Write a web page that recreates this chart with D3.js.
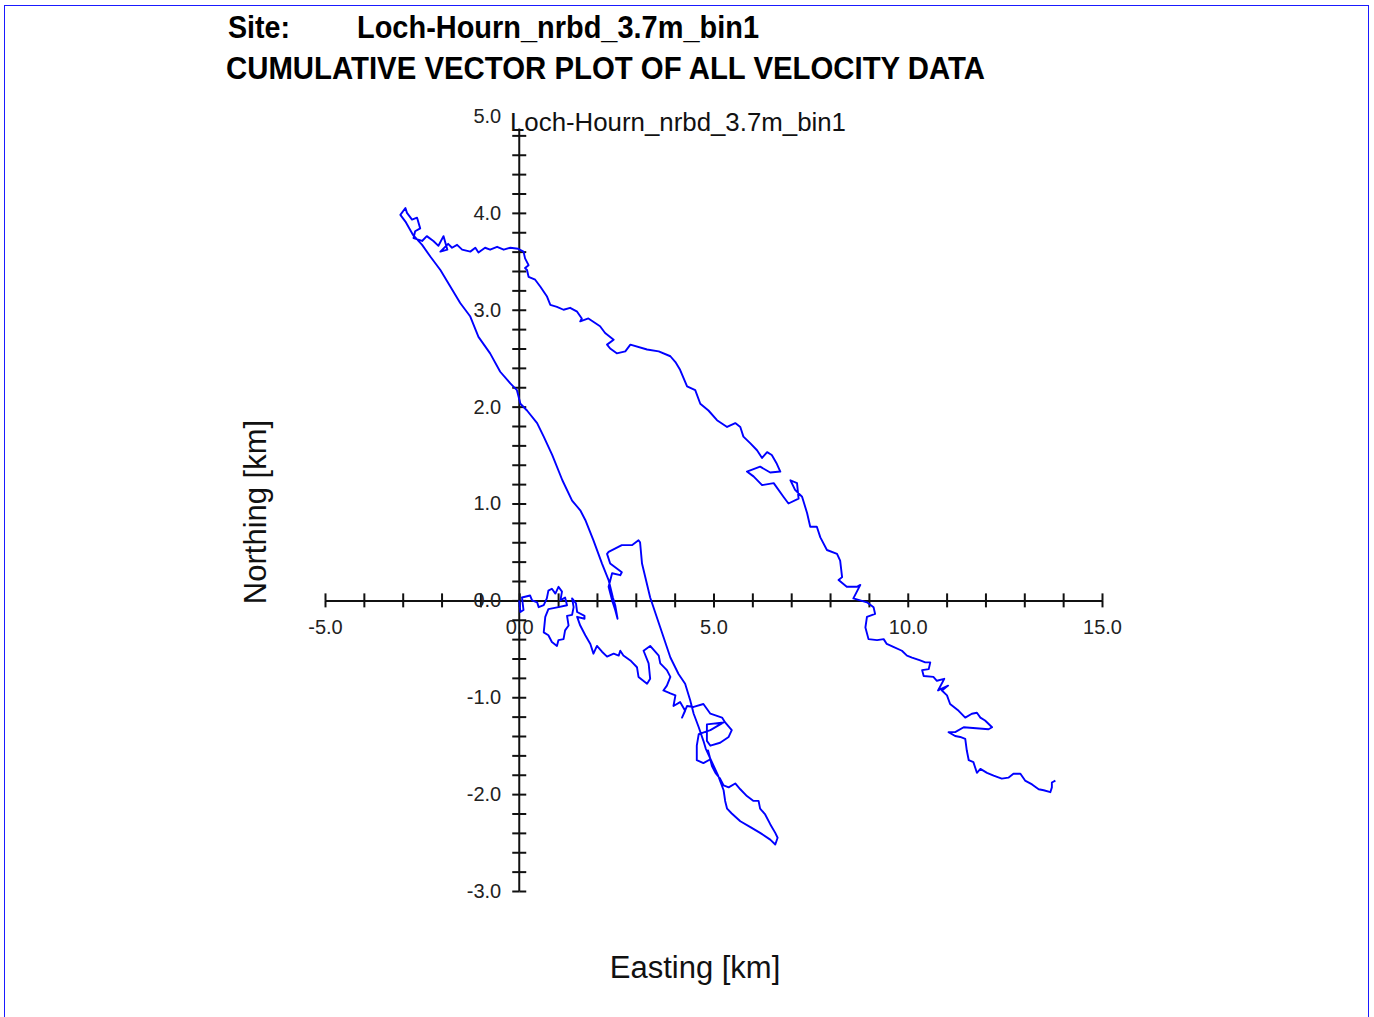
<!DOCTYPE html>
<html>
<head>
<meta charset="utf-8">
<script src="https://cdn.jsdelivr.net/npm/d3@7"></script>
<style>
  html, body { margin: 0; padding: 0; background: #fff; }
  svg { display: block; }
</style>
</head>
<body>
<svg id="chart" width="1374" height="1017"></svg>
<script>
// ---- data (km) ----
const siteName = "Loch-Hourn_nrbd_3.7m_bin1";
const titleLine = "CUMULATIVE VECTOR PLOT OF ALL VELOCITY DATA";
const xLabel = "Easting [km]";
const yLabel = "Northing [km]";

const xMinorTicks = [-5,-4,-3,-2,-1,0,1,2,3,4,5,6,7,8,9,10,11,12,13,14,15];
const xTickLabels = [-5, 0, 5, 10, 15];
const yMinorTicks = [-3,-2.8,-2.6,-2.4,-2.2,-2,-1.8,-1.6,-1.4,-1.2,-1,-0.8,-0.6,-0.4,-0.2,0,0.2,0.4,0.6,0.8,1,1.2,1.4,1.6,1.8,2,2.2,2.4,2.6,2.8,3,3.2,3.4,3.6,3.8,4,4.2,4.4,4.6,4.8];
const yTickLabels = [-3, -2, -1, 0, 1, 2, 3, 4, 5];

const eastKm = [
0,0.03,0.11,0.07,0.28,0.33,0.46,0.50,0.63,0.71,0.75,0.84,0.93,1.01,1.10,1.06,1.18,1.23,1.01,0.75,
0.67,0.63,0.75,0.84,0.97,1.01,1.14,1.18,1.27,1.23,1.36,1.40,1.36,1.46,1.49,1.68,1.68,1.49,1.57,1.70,
1.83,1.91,2.00,2.13,2.26,2.43,2.56,2.60,2.68,2.86,3.03,3.07,3.29,3.37,3.33,3.20,3.37,3.50,3.59,3.63,
3.80,3.89,3.80,3.71,3.89,4.02,3.97,4.14,4.27,4.19,4.32,4.49,4.74,4.92,5.22,5.30,5.47,5.39,5.17,4.92,
4.83,4.83,5.26,4.92,4.62,4.57,4.57,4.74,4.92,4.86,4.96,5.05,5.17,5.26,5.39,5.56,5.69,5.86,6.03,6.16,
6.20,6.33,6.46,6.59,6.65,6.59,6.46,6.20,5.95,5.69,5.47,5.35,5.30,5.26,5.12,4.80,4.74,4.62,4.49,4.40,
4.27,4.10,3.89,3.63,3.37,3.16,3.11,3.07,2.90,2.64,2.30,2.26,2.34,2.64,2.60,2.39,2.30,2.39,2.47,2.53,
2.47,2.41,2.30,2.13,1.91,1.70,1.57,1.36,1.11,0.85,0.63,0.46,0.20,0.03,-0.06,-0.23,-0.49,-0.75,-1.05,-1.26,
-1.52,-2.03,-2.29,-2.50,-2.73,-2.93,-3.06,-2.93,-2.89,-2.76,-2.63,-2.55,-2.68,-2.72,-2.50,-2.38,-2.21,-2.08,-1.95,-1.85,
-2.03,-1.83,-1.73,-1.60,-1.47,-1.26,-1.13,-1.05,-0.88,-0.75,-0.57,-0.40,-0.23,-0.03,0.11,0.15,0.24,0.15,0.20,0.24,
0.41,0.54,0.71,0.80,0.97,1.14,1.31,1.49,1.61,1.57,1.78,2.08,2.21,2.43,2.26,2.34,2.51,2.73,2.86,3.29,
3.59,3.89,4.02,4.14,4.32,4.53,4.66,4.87,5.09,5.35,5.56,5.69,5.77,5.95,6.12,6.25,6.38,6.50,6.63,6.72,
6.46,6.20,5.86,6.03,6.25,6.55,6.80,6.93,7.19,7.15,6.98,7.10,7.28,7.41,7.49,7.66,7.75,7.92,8.18,8.26,
8.31,8.22,8.43,8.69,8.78,8.60,8.95,9.12,9.16,8.95,8.91,8.99,9.21,9.38,9.46,9.63,9.85,9.98,10.11,10.32,
10.45,10.58,10.54,10.37,10.41,10.66,10.75,10.94,10.78,11.04,10.88,11.01,11.09,11.31,11.48,11.65,11.78,11.87,11.99,12.17,
12.08,11.44,11.22,11.05,11.22,11.35,11.48,11.52,11.57,11.69,11.78,11.87,12.04,12.21,12.42,12.59,12.72,12.90,13.02,13.20,
13.37,13.50,13.67,13.71,13.71,13.80
];
const northKm = [
0,-0.12,-0.10,0.03,0.05,0.00,-0.02,-0.07,-0.05,0.02,0.10,0.12,0.07,0.14,0.09,0.00,0.03,-0.05,-0.07,-0.09,
-0.17,-0.33,-0.36,-0.43,-0.47,-0.41,-0.40,-0.31,-0.26,-0.16,-0.15,-0.07,0.02,-0.03,-0.12,-0.16,-0.19,-0.17,-0.26,-0.36,
-0.45,-0.55,-0.47,-0.53,-0.58,-0.55,-0.57,-0.52,-0.57,-0.62,-0.69,-0.79,-0.86,-0.81,-0.65,-0.52,-0.47,-0.53,-0.57,-0.65,
-0.72,-0.79,-0.88,-0.93,-0.96,-0.98,-1.09,-1.05,-1.14,-1.21,-1.09,-1.10,-1.07,-1.17,-1.21,-1.26,-1.34,-1.41,-1.47,-1.50,
-1.45,-1.28,-1.26,-1.34,-1.38,-1.50,-1.65,-1.68,-1.64,-1.55,-1.71,-1.78,-1.84,-1.91,-1.93,-1.89,-1.95,-2.02,-2.07,-2.07,
-2.15,-2.21,-2.31,-2.40,-2.45,-2.52,-2.47,-2.40,-2.34,-2.28,-2.20,-2.15,-2.07,-1.96,-1.81,-1.53,-1.45,-1.31,-1.17,-1.03,
-0.86,-0.76,-0.59,-0.28,0.03,0.38,0.60,0.62,0.57,0.57,0.50,0.48,0.38,0.29,0.26,0.28,0.14,0.00,-0.10,-0.19,
-0.05,0.03,0.21,0.38,0.62,0.83,0.93,1.03,1.24,1.50,1.69,1.83,1.96,2.03,2.17,2.24,2.36,2.55,2.72,2.93,
3.07,3.41,3.55,3.67,3.77,3.91,3.98,4.05,4.00,3.93,3.95,3.84,3.81,3.74,3.71,3.76,3.71,3.66,3.76,3.62,
3.60,3.68,3.64,3.67,3.62,3.60,3.64,3.59,3.64,3.62,3.65,3.62,3.64,3.63,3.60,3.53,3.46,3.43,3.41,3.34,
3.31,3.24,3.14,3.05,3.03,3.00,3.02,2.98,2.91,2.88,2.91,2.83,2.76,2.69,2.64,2.60,2.55,2.57,2.64,2.59,
2.57,2.52,2.46,2.38,2.21,2.17,2.03,1.96,1.86,1.79,1.83,1.79,1.69,1.62,1.55,1.47,1.53,1.50,1.41,1.33,
1.32,1.38,1.33,1.28,1.19,1.21,1.07,1.00,1.05,1.21,1.24,1.14,1.07,0.90,0.76,0.76,0.65,0.52,0.48,0.41,
0.24,0.21,0.14,0.14,0.16,0.02,-0.02,-0.07,-0.14,-0.17,-0.28,-0.40,-0.41,-0.40,-0.45,-0.48,-0.52,-0.57,-0.59,-0.62,
-0.64,-0.64,-0.71,-0.72,-0.78,-0.79,-0.83,-0.81,-0.93,-0.88,-0.93,-0.98,-1.07,-1.14,-1.21,-1.17,-1.16,-1.21,-1.24,-1.31,
-1.33,-1.31,-1.36,-1.36,-1.40,-1.41,-1.43,-1.55,-1.65,-1.67,-1.78,-1.74,-1.78,-1.81,-1.84,-1.83,-1.79,-1.79,-1.86,-1.90,
-1.95,-1.96,-1.98,-1.93,-1.88,-1.86
];

// ---- drawing ----
const svg = d3.select("#chart");
const track = eastKm.map((e, i) => [e, northKm[i]]);

// page frame
svg.append("rect")
  .attr("x", 4.5).attr("y", 5.5).attr("width", 1364).attr("height", 1030)
  .attr("fill", "none").attr("stroke", "#1a1aff").attr("stroke-width", 1);

// titles (condensed bold, like Arial Narrow)
const titleFont = "'Liberation Sans',Arial,sans-serif";
function title(txt, tx, ty, len) {
  svg.append("text").attr("x", tx).attr("y", ty).text(txt)
    .attr("font-family", titleFont).attr("font-weight", "bold").attr("font-size", 32)
    .attr("textLength", len).attr("lengthAdjust", "spacingAndGlyphs").attr("fill", "#000");
}
title("Site:", 228, 38, 62);
title(siteName, 357, 38, 402);
title(titleLine, 226, 79, 759);

// scales
const x = d3.scaleLinear().domain([-5, 15]).range([325, 1102]);
const y = d3.scaleLinear().domain([-3, 5]).range([891, 116]);

const axisFont = "'Liberation Sans',Arial,sans-serif";
const fmt = d => d.toFixed(1);

// x axis
const x0 = y(0), y0 = x(0);
const gx = svg.append("g").attr("transform", `translate(0,${x0})`);
gx.append("g").call(d3.axisBottom(x).tickValues(xMinorTicks).tickSize(7).tickSizeOuter(0).tickFormat(""));
gx.append("g").call(d3.axisTop(x).tickValues(xMinorTicks).tickSize(7).tickSizeOuter(0).tickFormat(""));
gx.selectAll("path.domain").attr("stroke", "#111").attr("stroke-width", 2);
gx.selectAll("line").attr("stroke", "#111").attr("stroke-width", 2);
const gxl = gx.append("g").call(d3.axisBottom(x).tickValues(xTickLabels).tickSize(0).tickPadding(19).tickFormat(fmt));
gxl.select("path.domain").remove();
gxl.selectAll("text").attr("font-family", axisFont).attr("font-size", 20).attr("fill", "#222");

// y axis
const gy = svg.append("g").attr("transform", `translate(${y0},0)`);
gy.append("g").call(d3.axisLeft(y).tickValues(yMinorTicks).tickSize(7).tickSizeOuter(0).tickFormat(""));
gy.append("g").call(d3.axisRight(y).tickValues(yMinorTicks).tickSize(7).tickSizeOuter(0).tickFormat(""));
gy.selectAll("path.domain").remove();
gy.selectAll("line").attr("stroke", "#111").attr("stroke-width", 2);
gy.append("line").attr("x1", 0).attr("x2", 0).attr("y1", y(-3)).attr("y2", y(4.87))
  .attr("stroke", "#111").attr("stroke-width", 2);
const gyl = gy.append("g").call(d3.axisLeft(y).tickValues(yTickLabels).tickSize(0).tickPadding(18).tickFormat(fmt));
gyl.select("path.domain").remove();
gyl.selectAll("text").attr("font-family", axisFont).attr("font-size", 20).attr("fill", "#222");

// track
svg.append("path")
  .datum(track)
  .attr("fill", "none")
  .attr("stroke", "#0000ff")
  .attr("stroke-width", 1.9)
  .attr("stroke-linejoin", "round")
  .attr("d", d3.line().x(d => x(d[0])).y(d => y(d[1])));

// plot subtitle
svg.append("text").attr("x", 510).attr("y", 131).text(siteName)
  .attr("font-family", axisFont).attr("font-size", 25).attr("fill", "#111")
  .attr("textLength", 336).attr("lengthAdjust", "spacingAndGlyphs");

// axis titles
svg.append("text").attr("x", 695).attr("y", 978).attr("text-anchor", "middle").text(xLabel)
  .attr("font-family", axisFont).attr("font-size", 31).attr("fill", "#111");
svg.append("text").attr("transform", "translate(266,512) rotate(-90)").attr("text-anchor", "middle").text(yLabel)
  .attr("font-family", axisFont).attr("font-size", 31).attr("fill", "#111");
</script>
</body>
</html>
